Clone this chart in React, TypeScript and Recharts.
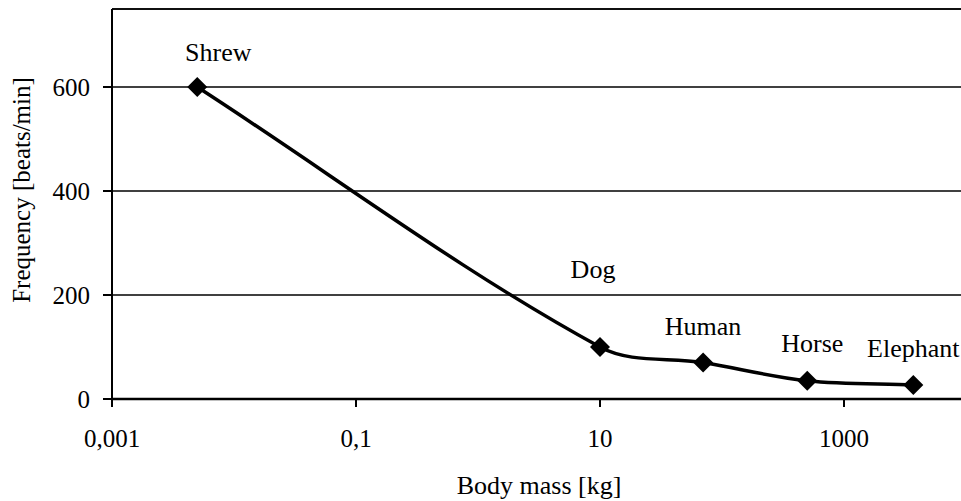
import React from 'react';
import { LineChart, Line, XAxis, YAxis, CartesianGrid, ReferenceLine } from 'recharts';

const animals = ['Shrew', 'Dog', 'Human', 'Horse', 'Elephant'];
const bodyMassKg = [0.005, 10, 70, 500, 3700];
const heartRate = [600, 100, 70, 35, 27];
const massTicks = [0.001, 0.1, 10, 1000];
const rateTicks = [0, 200, 400, 600];
const massDomain = [0.001, 10000];
const rateMax = 750;

const FONT = "'Liberation Serif', 'Times New Roman', serif";

// label offsets (centre of text relative to the marker), a few were moved by hand
const labelShift: Record<string, [number, number]> = {
    Shrew: [21, -34],
    Dog: [-7, -77],
    Horse: [5, -37],
};

const data = animals.map((name, i) => ({ name, mass: bodyMassKg[i], rate: heartRate[i] }));

const fmtMass = (v: number) => String(v).replace('.', ',');

// Excel-like smoothed line: bezier with tangents from neighbours, handle = segment length / 3
const excelSmooth = (context: any) => {
    let pts: number[][] = [];
    const unit = (a: number[], b: number[]) => {
        const dx = b[0] - a[0];
        const dy = b[1] - a[1];
        const l = Math.hypot(dx, dy) || 1;
        return [dx / l, dy / l];
    };
    return {
        areaStart() {},
        areaEnd() {},
        lineStart() {
            pts = [];
        },
        point(x: number, y: number) {
            pts.push([+x, +y]);
        },
        lineEnd() {
            if (!pts.length) return;
            context.moveTo(pts[0][0], pts[0][1]);
            for (let i = 0; i < pts.length - 1; i++) {
                const p0 = pts[Math.max(i - 1, 0)];
                const p1 = pts[i];
                const p2 = pts[i + 1];
                const p3 = pts[Math.min(i + 2, pts.length - 1)];
                const len = Math.hypot(p2[0] - p1[0], p2[1] - p1[1]) / 3;
                const t1 = unit(p0, p2);
                const t2 = unit(p1, p3);
                context.bezierCurveTo(
                    p1[0] + t1[0] * len,
                    p1[1] + t1[1] * len,
                    p2[0] - t2[0] * len,
                    p2[1] - t2[1] * len,
                    p2[0],
                    p2[1]
                );
            }
        },
    };
};

const tickStyle = { fontFamily: FONT, fontSize: 25 };
const labelStyle = { fontFamily: FONT, fontSize: 26 };

const DiamondDot = (props: any) => {
    const { cx, cy, payload, index } = props;
    if (cx == null || cy == null) return <g key={`d-${index}`} />;
    const r = 10;
    const [dx, dy] = labelShift[payload.name] || [0, -36];
    return (
        <g key={`d-${index}`}>
            <polygon
                points={`${cx},${cy - r} ${cx + r},${cy} ${cx},${cy + r} ${cx - r},${cy}`}
                fill="#000"
            />
            <text x={cx + dx} y={cy + dy + 8} textAnchor="middle" style={labelStyle} fill="#000">
                {payload.name}
            </text>
        </g>
    );
};

export default function App() {
    return (
        <div
            style={{
                position: 'fixed',
                left: 0,
                top: 0,
                width: 961,
                height: 501,
                overflow: 'hidden',
                background: '#fff',
            }}
        >
            <LineChart width={980} height={501} data={data} margin={{ top: 9, right: 14, bottom: 42, left: 0 }}>
                <CartesianGrid vertical={false} stroke="#000" strokeWidth={1.3} />
                <ReferenceLine y={rateMax} stroke="#000" strokeWidth={1.5} />
                <XAxis
                    dataKey="mass"
                    type="number"
                    scale="log"
                    domain={massDomain}
                    ticks={massTicks}
                    tickFormatter={fmtMass}
                    allowDataOverflow
                    height={60}
                    tickSize={8}
                    tickMargin={22}
                    axisLine={{ stroke: '#000', strokeWidth: 2.5 }}
                    tickLine={{ stroke: '#000', strokeWidth: 2 }}
                    tick={{ fill: '#000', style: tickStyle }}
                    label={{
                        content: ({ viewBox }: any) => (
                            <text
                                x={viewBox.x + viewBox.width / 2}
                                y={494}
                                textAnchor="middle"
                                style={labelStyle}
                                fill="#000"
                            >
                                Body mass [kg]
                            </text>
                        ),
                    }}
                />
                <YAxis
                    type="number"
                    domain={[0, rateMax]}
                    ticks={rateTicks}
                    width={112}
                    tickSize={9}
                    tickMargin={13}
                    axisLine={{ stroke: '#000', strokeWidth: 2 }}
                    tickLine={{ stroke: '#000', strokeWidth: 2 }}
                    tick={{ fill: '#000', style: tickStyle }}
                    label={{
                        content: () => (
                            <text
                                x={30}
                                y={190}
                                transform="rotate(-90, 30, 190)"
                                textAnchor="middle"
                                style={tickStyle}
                                fill="#000"
                            >
                                Frequency [beats/min]
                            </text>
                        ),
                    }}
                />
                <Line
                    type={excelSmooth as any}
                    dataKey="rate"
                    stroke="#000"
                    strokeWidth={3.5}
                    dot={DiamondDot}
                    activeDot={false}
                    isAnimationActive={false}
                />
            </LineChart>
        </div>
    );
}
